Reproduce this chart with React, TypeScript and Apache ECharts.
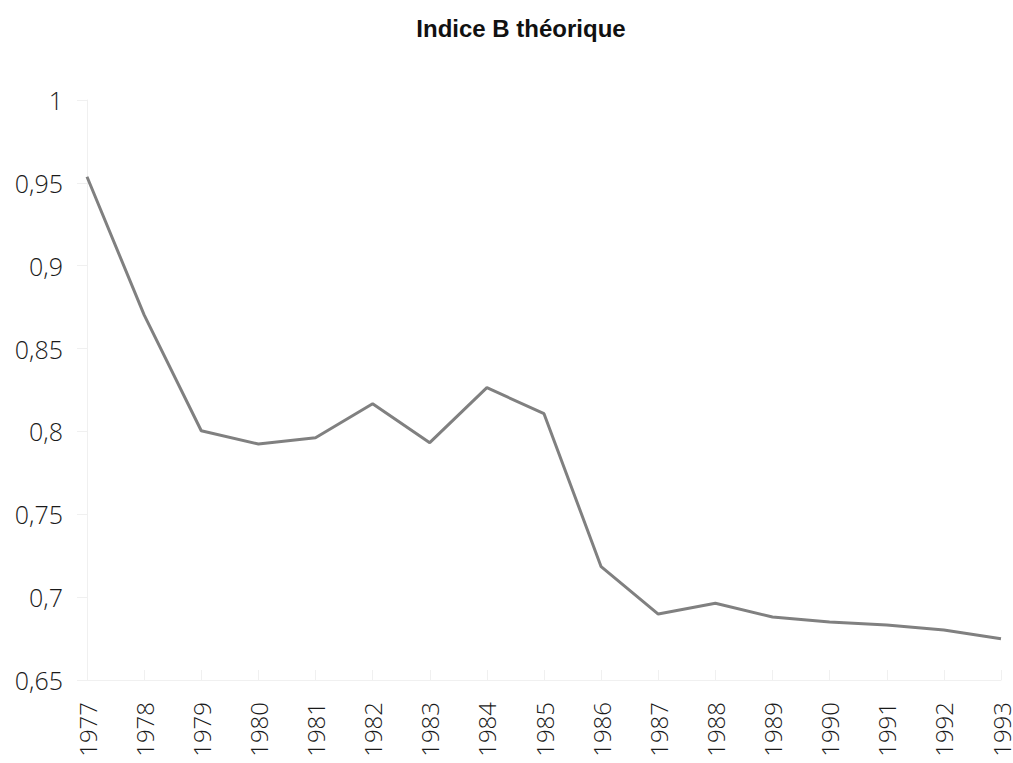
import React, { useEffect, useRef } from "react";
import * as echarts from "echarts";

const years = ["1977","1978","1979","1980","1981","1982","1983","1984","1985","1986","1987","1988","1989","1990","1991","1992","1993"];
const indiceB = [0.9537, 0.8703, 0.8004, 0.7924, 0.7962, 0.8167, 0.7932, 0.8264, 0.8107, 0.7184, 0.6898, 0.6963, 0.688, 0.685, 0.6832, 0.6802, 0.6749];
const yMin = 0.65;
const yMax = 1;
const yStep = 0.05;
const titleText = "Indice B théorique";

export default function App() {
  const ref = useRef<HTMLDivElement>(null);
  useEffect(() => {
    if (!ref.current) return;
    const chart = echarts.init(ref.current, null, { renderer: "svg" });
    chart.setOption({
      animation: false,
      backgroundColor: "#ffffff",
      graphic: [
        {
          type: "text",
          x: 521,
          y: 28,
          style: {
            text: titleText,
            textAlign: "center",
            textVerticalAlign: "middle",
            fontFamily: "Liberation Sans",
            fontSize: 24,
            fontWeight: "bold",
            fill: "#111111",
          },
        },
      ],
      grid: { left: 87, right: 10, top: 100, bottom: 83, containLabel: false },
      xAxis: {
        type: "category",
        data: years,
        boundaryGap: false,
        axisLine: { show: true, lineStyle: { color: "#f0f0f0", width: 1 } },
        axisTick: { show: true, inside: true, length: 10, lineStyle: { color: "#f0f0f0" } },
        axisLabel: {
          rotate: 90,
          margin: 22,
          fontFamily: "Open Sans",
          fontWeight: 300,
          fontSize: 24,
          color: "#1a1a1a",
        },
        splitLine: { show: false },
      },
      yAxis: {
        type: "value",
        min: yMin,
        max: yMax,
        interval: yStep,
        axisLine: { show: true, lineStyle: { color: "#f0f0f0", width: 1 } },
        axisTick: { show: true, length: 10, lineStyle: { color: "#f0f0f0" } },
        splitLine: { show: false },
        axisLabel: {
          margin: 24,
          fontFamily: "Open Sans",
          fontWeight: 300,
          fontSize: 25,
          color: "#1a1a1a",
          formatter: (v: number) => String(Math.round(v * 100) / 100).replace(".", ","),
        },
      },
      series: [
        {
          type: "line",
          data: indiceB,
          symbol: "none",
          lineStyle: { color: "#808080", width: 3 },
        },
      ],
    });
    return () => chart.dispose();
  }, []);
  return <div ref={ref} style={{ width: 1013, height: 763, position: "absolute", left: 0, top: 0 }} />;
}
